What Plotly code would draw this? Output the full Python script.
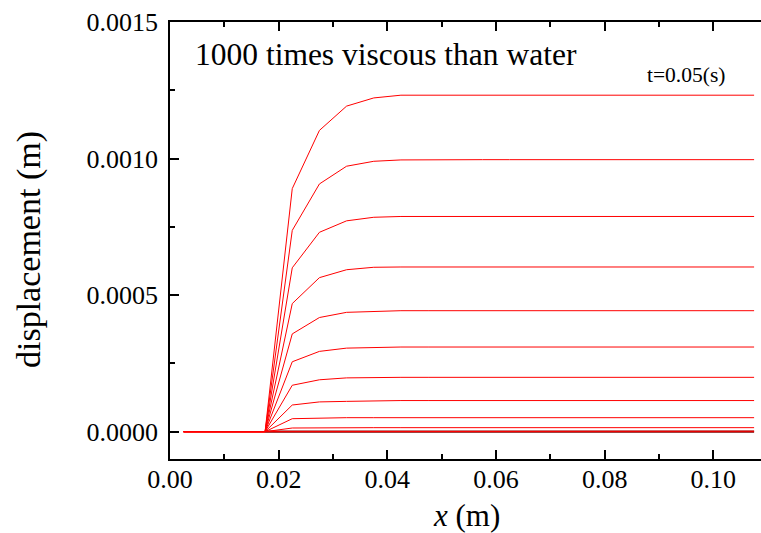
import plotly.graph_objects as go

# x positions (m)
x = [0.0025, 0.0075, 0.0125, 0.0175, 0.0225, 0.0275, 0.0325, 0.0375, 0.0425, 0.0475, 0.0525,
     0.0575, 0.0625, 0.0675, 0.0725, 0.0775, 0.0825, 0.0875, 0.0925, 0.0975, 0.1025, 0.1075]

# displacement curves (m), largest time first
c1 = [0, 0, 0, 0, 0.000890, 0.001103, 0.001192, 0.001222, 0.001232, 0.001232, 0.001232,
      0.001232, 0.001232, 0.001232, 0.001232, 0.001232, 0.001232, 0.001232, 0.001232, 0.001232, 0.001232, 0.001232]
c2 = [0, 0, 0, 0, 0.000737, 0.000907, 0.000972, 0.000990, 0.000995, 0.000996, 0.000996,
      0.000996, 0.000996, 0.000996, 0.000996, 0.000996, 0.000996, 0.000996, 0.000996, 0.000996, 0.000996, 0.000996]
c3 = [0, 0, 0, 0, 0.000600, 0.000730, 0.000772, 0.000785, 0.000788, 0.000788, 0.000788,
      0.000788, 0.000788, 0.000788, 0.000788, 0.000788, 0.000788, 0.000788, 0.000788, 0.000788, 0.000788, 0.000788]
c4 = [0, 0, 0, 0, 0.000469, 0.000564, 0.000593, 0.000602, 0.000603, 0.000603, 0.000603,
      0.000603, 0.000603, 0.000603, 0.000603, 0.000603, 0.000603, 0.000603, 0.000603, 0.000603, 0.000603, 0.000603]
c5 = [0, 0, 0, 0, 0.000358, 0.000418, 0.000437, 0.000441, 0.000443, 0.000443, 0.000443,
      0.000443, 0.000443, 0.000443, 0.000443, 0.000443, 0.000443, 0.000443, 0.000443, 0.000443, 0.000443, 0.000443]
c6 = [0, 0, 0, 0, 0.000256, 0.000294, 0.000306, 0.000309, 0.000310, 0.000310, 0.000310,
      0.000310, 0.000310, 0.000310, 0.000310, 0.000310, 0.000310, 0.000310, 0.000310, 0.000310, 0.000310, 0.000310]
c7 = [0, 0, 0, 0, 0.000170, 0.000190, 0.000197, 0.000199, 0.000199, 0.000199, 0.000199,
      0.000199, 0.000199, 0.000199, 0.000199, 0.000199, 0.000199, 0.000199, 0.000199, 0.000199, 0.000199, 0.000199]
c8 = [0, 0, 0, 0, 0.0000977, 0.000109, 0.000111, 0.000113, 0.000114, 0.000114, 0.000114,
      0.000114, 0.000114, 0.000114, 0.000114, 0.000114, 0.000114, 0.000114, 0.000114, 0.000114, 0.000114, 0.000114]
c9 = [0, 0, 0, 0, 0.0000476, 0.0000500, 0.0000513, 0.0000513, 0.0000513, 0.0000513, 0.0000513,
      0.0000513, 0.0000513, 0.0000513, 0.0000513, 0.0000513, 0.0000513, 0.0000513, 0.0000513, 0.0000513, 0.0000513, 0.0000513]
c10 = [0, 0, 0, 0, 0.0000135, 0.0000147, 0.0000147, 0.0000147, 0.0000147, 0.0000147, 0.0000147,
       0.0000147, 0.0000147, 0.0000147, 0.0000147, 0.0000147, 0.0000147, 0.0000147, 0.0000147, 0.0000147, 0.0000147, 0.0000147]
c11 = [0, 0, 0, 0, 0.0000015, 0.0000015, 0.0000015, 0.0000015, 0.0000015, 0.0000015, 0.0000015,
       0.0000015, 0.0000015, 0.0000015, 0.0000015, 0.0000015, 0.0000015, 0.0000015, 0.0000015, 0.0000015, 0.0000015, 0.0000015]
# earliest curve (dark red), from the step onward
x_early = x[3:]
c0 = [0] * len(x_early)

red_curves = [c11, c10, c9, c8, c7, c6, c5, c4, c3, c2, c1]

title_text = "1000 times viscous than water"
time_text = "t=0.05(s)"
xlabel = "<i>x</i> (m)"
ylabel = "displacement (m)"

FONT = "Liberation Serif, Times New Roman, serif"

fig = go.Figure()
fig.add_trace(go.Scatter(x=x_early, y=c0, mode="lines",
                         line=dict(color="#800000", width=2.2), showlegend=False))
for c in red_curves:
    fig.add_trace(go.Scatter(x=x, y=c, mode="lines",
                             line=dict(color="#ff0000", width=1), showlegend=False))

axis_common = dict(showline=True, linecolor="black", linewidth=1.5, showgrid=False,
                   zeroline=False, ticks="inside", tickcolor="black", tickwidth=1.5,
                   ticklen=9,
                   tickfont=dict(family=FONT, size=26, color="black"))

fig.update_layout(
    width=761, height=533,
    margin=dict(l=170, r=0, t=22, b=74),
    paper_bgcolor="white", plot_bgcolor="white",
    font=dict(family=FONT, color="black"),
    xaxis=dict(range=[0, 0.10877], tickvals=[0, 0.02, 0.04, 0.06, 0.08, 0.10],
               ticktext=["0.00", "0.02", "0.04", "0.06", "0.08", "0.10"],
               minor=dict(tickvals=[0.01, 0.03, 0.05, 0.07, 0.09], ticks="inside", ticklen=5,
                          tickcolor="black", tickwidth=1.5),
               ticklabelstandoff=-4, mirror="ticks", **axis_common),
    yaxis=dict(range=[-0.0001, 0.0015], tickvals=[0, 0.0005, 0.0010, 0.0015],
               ticktext=["0.0000", "0.0005", "0.0010", "0.0015"],
               minor=dict(tickvals=[0.00025, 0.00075, 0.00125], ticks="inside", ticklen=5,
                          tickcolor="black", tickwidth=1.5),
               ticklabelstandoff=5, **axis_common),
    yaxis2=dict(range=[-0.0001, 0.0015], overlaying="y", side="right", anchor="x",
                showline=False, showgrid=False, zeroline=False, showticklabels=False,
                ticks="inside", ticklen=3, tickwidth=1.5, tickcolor="black",
                tickvals=[0, 0.0005, 0.0010, 0.0015]),
    annotations=[
        dict(text=title_text, xref="paper", yref="paper", x=(193 - 170) / 591, y=(459 - 55) / 437,
             xanchor="left", yanchor="middle", showarrow=False,
             font=dict(family=FONT, size=31.5, color="black")),
        dict(text=time_text, xref="paper", yref="paper", x=(645 - 170) / 591, y=(459 - 75) / 437,
             xanchor="left", yanchor="middle", showarrow=False,
             font=dict(family=FONT, size=21.5, color="black")),
        dict(text=xlabel, xref="paper", yref="paper", x=(466 - 170) / 591, y=(459 - 515) / 437,
             xanchor="center", yanchor="middle", showarrow=False,
             font=dict(family=FONT, size=31, color="black")),
        dict(text=ylabel, xref="paper", yref="paper", x=(29 - 170) / 591, y=(459 - 250) / 437,
             xanchor="center", yanchor="middle", showarrow=False, textangle=-90,
             font=dict(family=FONT, size=34, color="black")),
    ],
)

fig.write_html("out.html")
